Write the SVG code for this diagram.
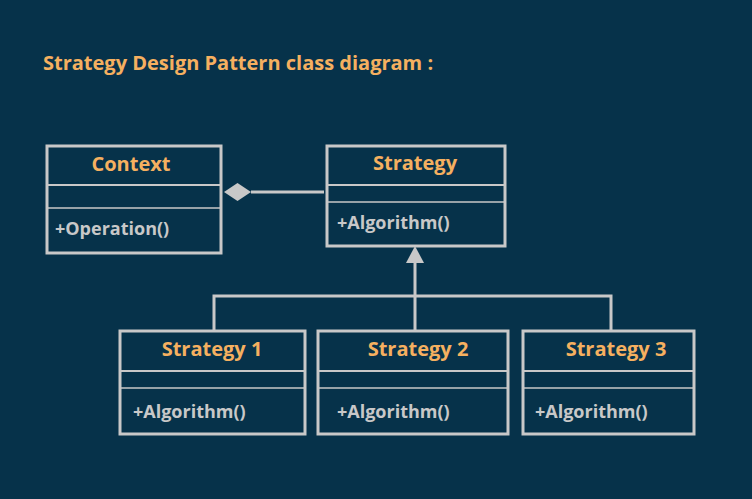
<svg xmlns="http://www.w3.org/2000/svg" width="752" height="499" viewBox="0 0 752 499">
<style>
.box{fill:none;stroke:#c8c8c8;stroke-width:3}
.div{stroke:#c8c8c8;stroke-width:2}
.div2{stroke:#c8c8c8;stroke-width:1.5}
.name{font-family:"Open Sans","Noto Sans",sans-serif;font-weight:bold;font-size:20px;fill:#f5b060;text-anchor:middle}
.op{font-family:"Open Sans","Noto Sans",sans-serif;font-weight:bold;font-size:18px;fill:#c8c8c8}
.title{font-family:"Open Sans","Noto Sans",sans-serif;font-weight:bold;font-size:20px;fill:#f5b060}
.conn{stroke:#c8c8c8;stroke-width:3;fill:none}
</style>
<rect width="752" height="499" fill="#06324a"/>
<text class="title" x="43" y="70">Strategy Design Pattern class diagram :</text>
<g id="context">
<rect class="box" x="47" y="146" width="174" height="107"/>
<line class="div" x1="47" y1="185" x2="221" y2="185"/>
<line class="div2" x1="47" y1="208" x2="221" y2="208"/>
<text class="name" x="131" y="171">Context</text>
<text class="op" x="55" y="235">+Operation()</text>
</g>
<g id="strategy">
<rect class="box" x="327" y="146" width="178" height="100"/>
<line class="div" x1="327" y1="185" x2="505" y2="185"/>
<line class="div2" x1="327" y1="202" x2="505" y2="202"/>
<text class="name" x="415" y="170">Strategy</text>
<text class="op" x="337" y="229">+Algorithm()</text>
</g>
<g id="strategy1">
<rect class="box" x="120" y="331" width="185" height="103"/>
<line class="div" x1="120" y1="371" x2="305" y2="371"/>
<line class="div2" x1="120" y1="388" x2="305" y2="388"/>
<text class="name" x="212" y="356">Strategy 1</text>
<text class="op" x="133" y="418">+Algorithm()</text>
</g>
<g id="strategy2">
<rect class="box" x="318" y="331" width="190" height="103"/>
<line class="div" x1="318" y1="371" x2="508" y2="371"/>
<line class="div2" x1="318" y1="388" x2="508" y2="388"/>
<text class="name" x="418" y="356">Strategy 2</text>
<text class="op" x="337" y="418">+Algorithm()</text>
</g>
<g id="strategy3">
<rect class="box" x="523" y="331" width="171" height="103"/>
<line class="div" x1="523" y1="371" x2="694" y2="371"/>
<line class="div2" x1="523" y1="388" x2="694" y2="388"/>
<text class="name" x="616" y="356">Strategy 3</text>
<text class="op" x="535" y="418">+Algorithm()</text>
</g>
<g id="connectors">
<line class="conn" x1="251" y1="192" x2="324" y2="192"/>
<polygon points="224,192 237.5,183 251,192 237.5,201" fill="#c8c8c8"/>
<polygon points="415,246 424,263 406,263" fill="#c8c8c8"/>
<line class="conn" x1="415" y1="263" x2="415" y2="331"/>
<polyline class="conn" points="214,331 214,296 611,296 611,331"/>
</g>
</svg>
